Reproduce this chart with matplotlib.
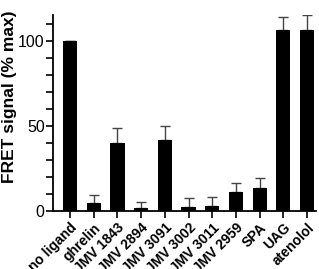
import matplotlib
matplotlib.use("Agg")
import matplotlib.pyplot as plt
from matplotlib.ticker import MultipleLocator

plt.rcParams['font.family'] = ['Liberation Sans', 'DejaVu Sans']

categories = ["no ligand", "ghrelin", "JMV 1843", "JMV 2894", "JMV 3091",
              "JMV 3002", "JMV 3011", "JMV 2959", "SPA", "UAG", "atenolol"]
values = [100, 4.5, 39.8, 1.6, 41.8, 2.5, 3.0, 11.0, 13.5, 106, 106]
err_upper = [0, 4.9, 8.8, 3.9, 8.2, 5.3, 5.4, 5.3, 6.1, 8.0, 9.0]

fig = plt.figure(figsize=(3.19, 2.69), dpi=100)
ax = fig.add_axes([53/319, 1-211/269, (316-53)/319, (211-15)/269])

x = list(range(len(categories)))
ax.bar(x, values, width=0.6, color='black', zorder=2)
ax.errorbar(x, values, yerr=[[0]*len(values), err_upper], fmt='none',
            ecolor='#444444', elinewidth=1.0, capsize=3.5, capthick=1.0, zorder=1)

ax.set_xlim(-0.72, 10.38)
ax.set_ylim(0, 115)
ax.yaxis.set_major_locator(MultipleLocator(50))
ax.yaxis.set_minor_locator(MultipleLocator(10))
ax.set_xticks(x)
ax.set_xticklabels(categories, rotation=45, ha='right', rotation_mode='anchor',
                   fontsize=10, fontweight='bold')
ax.tick_params(axis='y', which='major', length=5, width=1.2, pad=1, labelsize=11.5)
ax.tick_params(axis='y', which='minor', length=5, width=1.2)
ax.tick_params(axis='x', which='major', length=5, width=1.2, pad=2)

for s in ['top', 'right']:
    ax.spines[s].set_visible(False)
for s in ['left', 'bottom']:
    ax.spines[s].set_linewidth(1.3)

ax.set_ylabel("FRET signal (% max)", fontsize=12.5, fontweight='bold')
ax.yaxis.set_label_coords(-0.137, 0.585)

fig.savefig("out.png", dpi=100)
